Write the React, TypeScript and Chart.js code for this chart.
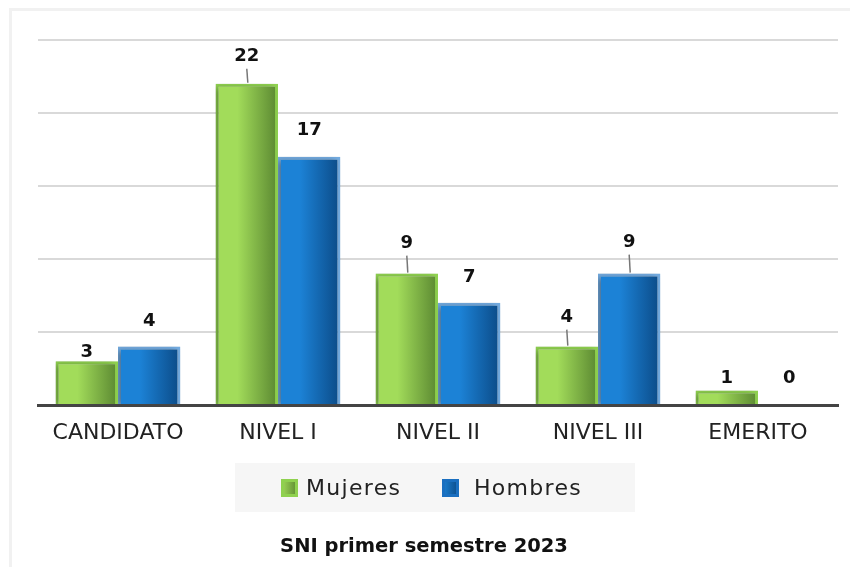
import React, { useEffect, useRef } from "react";
import { Chart, registerables } from "chart.js";

Chart.register(...registerables);

const categories = ["CANDIDATO", "NIVEL I", "NIVEL II", "NIVEL III", "EMERITO"];
const mujeres = [3, 22, 9, 4, 1];
const hombres = [4, 17, 7, 9, 0];
const seriesNames = ["Mujeres", "Hombres"];
const chartTitle = "SNI primer semestre 2023";

const FONT = "'DejaVu Sans', sans-serif";
const CAT_PCT = 0.78;

const gradStops = [
  ["#a2dc5a", "#5a8731"],
  ["#1c82d6", "#0b4a86"],
];
const borderCols = ["#8fd14f", "#72aadf"];
const legendCols = ["#8fd14f", "#1a6fc0"];

function barGradient(ctx: any, dsIndex: number) {
  const chart = ctx.chart;
  const xs = chart.scales && chart.scales.x;
  if (!xs || ctx.dataIndex === undefined) return gradStops[dsIndex][0];
  const n = chart.data.labels.length;
  const catW = (xs.right - xs.left) / n;
  const groupW = catW * CAT_PCT;
  const center = xs.getPixelForValue(ctx.dataIndex);
  const left = center - groupW / 2 + (dsIndex * groupW) / 2;
  const right = left + groupW / 2;
  if (!isFinite(left) || !isFinite(right) || right <= left) return gradStops[dsIndex][0];
  const g = chart.ctx.createLinearGradient(left, 0, right, 0);
  g.addColorStop(0, gradStops[dsIndex][0]);
  g.addColorStop(0.35, gradStops[dsIndex][0]);
  g.addColorStop(1, gradStops[dsIndex][1]);
  return g;
}

const shadowPlugin = {
  id: "barShadow",
  beforeDatasetsDraw(chart: any) {
    const c = chart.ctx;
    c.save();
    c.shadowColor = "rgba(0,0,0,0.35)";
    c.shadowBlur = 6;
    c.shadowOffsetX = -3;
    c.shadowOffsetY = 1;
  },
  afterDatasetsDraw(chart: any) {
    chart.ctx.restore();
  },
};

const labelPlugin = {
  id: "valueLabels",
  afterDatasetsDraw(chart: any, _args: any, opts: any) {
    const c = chart.ctx;
    c.save();
    c.shadowColor = "transparent";
    c.font = `bold 18px ${FONT}`;
    c.fillStyle = "#111";
    c.textAlign = "center";
    c.textBaseline = "middle";
    chart.data.datasets.forEach((ds: any, di: number) => {
      const meta = chart.getDatasetMeta(di);
      meta.data.forEach((bar: any, i: number) => {
        const off = opts.offsets[di][i];
        const y = bar.y - off;
        c.fillText(String(ds.data[i]), bar.x, y);
        if (opts.leaders[di][i]) {
          c.strokeStyle = "#777";
          c.lineWidth = 1.5;
          c.beginPath();
          c.moveTo(bar.x, y + 12);
          c.lineTo(bar.x + 1, bar.y - 1);
          c.stroke();
        }
      });
    });
    c.restore();
  },
};

const legendTitlePlugin = {
  id: "legendTitle",
  afterDraw(chart: any) {
    const c = chart.ctx;
    c.save();
    c.fillStyle = "#f6f6f6";
    c.fillRect(235, 463, 400, 49);
    const items = [
      { x: 281, tx: 306 },
      { x: 442, tx: 474 },
    ];
    c.font = `22px ${FONT}`;
    (c as any).letterSpacing = "1.3px";
    c.textBaseline = "middle";
    c.textAlign = "left";
    chart.data.datasets.forEach((ds: any, di: number) => {
      const it = items[di];
      const g = c.createLinearGradient(it.x, 0, it.x + 17, 0);
      g.addColorStop(0, gradStops[di][0]);
      g.addColorStop(1, gradStops[di][1]);
      c.fillStyle = legendCols[di];
      c.fillRect(it.x, 479, 17, 18);
      c.fillStyle = g;
      c.fillRect(it.x + 3, 482, 11, 12);
      c.fillStyle = "#222";
      c.fillText(ds.label, it.tx, 489);
    });
    (c as any).letterSpacing = "0px";
    c.font = `bold 19.5px ${FONT}`;
    c.textAlign = "center";
    c.fillStyle = "#111";
    c.fillText(chartTitle, 424, 547);
    c.restore();
  },
};

export default function App() {
  const ref = useRef<HTMLCanvasElement>(null);
  useEffect(() => {
    if (!ref.current) return;
    const chart = new Chart(ref.current, {
      type: "bar",
      data: {
        labels: categories,
        datasets: [
          {
            label: seriesNames[0],
            data: mujeres,
            backgroundColor: (ctx: any) => barGradient(ctx, 0),
            borderColor: borderCols[0],
            borderWidth: 3,
            categoryPercentage: CAT_PCT,
            barPercentage: 1,
          },
          {
            label: seriesNames[1],
            data: hombres,
            backgroundColor: (ctx: any) => barGradient(ctx, 1),
            borderColor: borderCols[1],
            borderWidth: 3,
            categoryPercentage: CAT_PCT,
            barPercentage: 1,
          },
        ],
      },
      plugins: [shadowPlugin, labelPlugin, legendTitlePlugin],
      options: {
        responsive: false,
        animation: false,
        devicePixelRatio: 1,
        layout: { padding: { left: 38, right: 12, top: 40, bottom: 0 } },
        plugins: {
          legend: { display: false },
          title: { display: false },
          tooltip: { enabled: false },
          valueLabels: {
            offsets: [
              [9, 27, 30, 29, 12],
              [25, 26, 25, 31, 27],
            ],
            leaders: [
              [false, true, true, true, false],
              [false, false, false, true, false],
            ],
          },
        } as any,
        scales: {
          x: {
            grid: { display: false, drawTicks: false },
            border: { display: true, color: "#444", width: 3 },
            ticks: {
              color: "#222",
              font: { family: FONT, size: 22 },
              padding: 15,
              maxRotation: 0,
            },
            afterFit: (s: any) => {
              s.height = 162;
            },
          },
          y: {
            min: 0,
            max: 25,
            ticks: { stepSize: 5, display: false },
            grid: { color: "#d9d9d9", lineWidth: 2, drawTicks: false },
            border: { display: false },
          },
        },
      },
    });
    return () => chart.destroy();
  }, []);
  return (
    <div style={{ position: "fixed", left: 0, top: 0, width: 850, height: 567, background: "#fff" }}>
      <div
        style={{
          position: "absolute",
          left: 9,
          top: 8,
          width: 850,
          height: 570,
          borderLeft: "3px solid #f1f1f1",
          borderTop: "3px solid #f1f1f1",
        }}
      />
      <canvas ref={ref} width={850} height={567} style={{ position: "absolute", left: 0, top: 0 }} />
    </div>
  );
}
